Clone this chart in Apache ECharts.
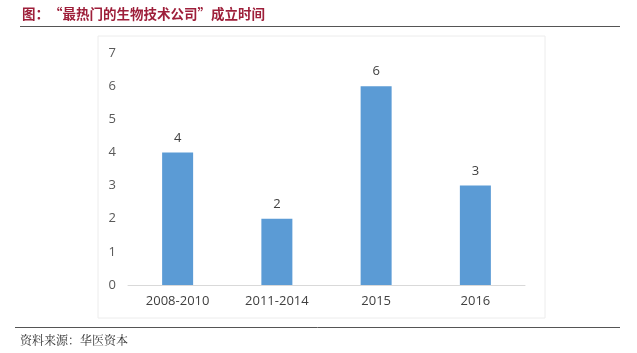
<!DOCTYPE html>
<html><head><meta charset="utf-8">
<script src="https://cdn.jsdelivr.net/npm/echarts@6/dist/echarts.min.js"></script>
<style>html,body{margin:0;padding:0;background:#fff}#c{width:637px;height:353px}</style>
</head><body><div id="c"></div>
<script>
const categories = ['2008-2010', '2011-2014', '2015', '2016'];
const values = [4, 2, 6, 3];
const yTicks = [0, 1, 2, 3, 4, 5, 6, 7];
const titleText = '图：“最热门的生物技术公司”成立时间';
const sourceText = '资料来源：华医资本';

const chart = echarts.init(document.getElementById('c'));
chart.setOption({
  animation: false,
  backgroundColor: '#fff',
  graphic: [
    { type: 'rect', shape: { x: 98, y: 36, width: 447, height: 282 }, style: { fill: 'none', stroke: '#ececec', lineWidth: 1 } },
    { type: 'line', shape: { x1: 20, y1: 26.5, x2: 620, y2: 26.5 }, style: { stroke: '#555', lineWidth: 1 } },
    { type: 'line', shape: { x1: 15, y1: 327.5, x2: 620, y2: 327.5 }, style: { stroke: '#555', lineWidth: 1 } },
    { type: 'text', left: 22, top: 7, style: { text: titleText, fill: '#9e1f3a', font: 'bold 13.5px "Noto Sans CJK SC", sans-serif' } },
    { type: 'text', left: 20, top: 334, style: { text: sourceText, fill: '#333', font: '12px "Noto Serif CJK SC", "AR PL UMing CN", serif' } }
  ],
  grid: { left: 128, right: 112, top: 53, bottom: 68 },
  xAxis: {
    type: 'category',
    data: categories,
    axisLine: { lineStyle: { color: '#d9d9d9' } },
    axisTick: { show: false },
    axisLabel: { color: '#404040', fontSize: 13, margin: 10, fontFamily: '"Open Sans", sans-serif' }
  },
  yAxis: {
    type: 'value', min: 0, max: 7, interval: 1,
    axisLine: { show: false }, axisTick: { show: false },
    splitLine: { show: false },
    axisLabel: { color: '#595959', fontSize: 13, margin: 12, fontFamily: '"Open Sans", sans-serif',
      formatter: v => String(yTicks[v] !== undefined ? yTicks[v] : v) }
  },
  series: [{
    type: 'bar', data: values, barWidth: 31,
    itemStyle: { color: '#5b9bd5' },
    label: { show: true, position: 'top', distance: 8, color: '#404040', fontSize: 13, fontFamily: '"Open Sans", sans-serif' }
  }]
});
</script></body></html>
